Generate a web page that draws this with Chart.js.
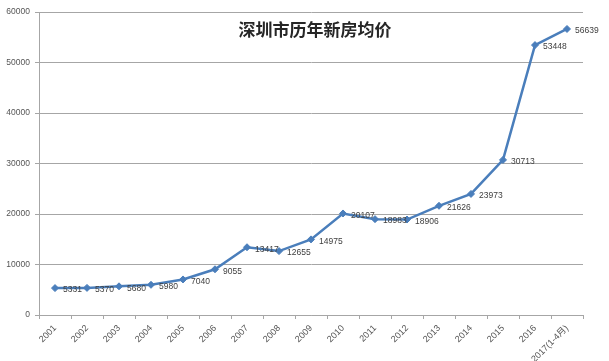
<!DOCTYPE html>
<html><head><meta charset="utf-8">
<script src="https://cdn.jsdelivr.net/npm/chart.js@4/dist/chart.umd.min.js"></script>
<style>html,body{margin:0;padding:0;background:#fff}#wrap{width:609px;height:361px}</style>
</head><body><div id="wrap"><canvas id="c" width="609" height="361"></canvas></div>
<script>
const categories = ['2001','2002','2003','2004','2005','2006','2007','2008','2009','2010','2011','2012','2013','2014','2015','2016','2017(1-4月)'];
const prices = [5331,5370,5680,5980,7040,9055,13417,12655,14975,20107,18983,18906,21626,23973,30713,53448,56639];
const yTicks = [0,10000,20000,30000,40000,50000,60000];
const titleText = '深圳市历年新房均价';

const labelPlugin = {
  id:'labels',
  afterDatasetsDraw(chart){
    const ctx = chart.ctx;
    const meta = chart.getDatasetMeta(0);
    ctx.save();
    ctx.font = '8.5px "Liberation Sans", Arial, sans-serif';
    ctx.fillStyle = '#404040';
    ctx.textAlign = 'left';
    ctx.textBaseline = 'middle';
    meta.data.forEach((pt,i)=>{
      ctx.fillText(String(prices[i]), pt.x + 8, pt.y + 2);
    });
    ctx.font = 'bold 17px "Noto Sans CJK SC", sans-serif';
    ctx.fillStyle = '#262626';
    ctx.textAlign = 'center';
    ctx.fillText(titleText, 315, 30);
    ctx.restore();
  }
};

new Chart(document.getElementById('c'), {
  type:'line',
  data:{labels:categories, datasets:[{
    data:prices,
    borderColor:'#4a7ebb',
    backgroundColor:'#4a7ebb',
    borderWidth:2.5,
    pointStyle:'rectRot',
    pointRadius:3.5,
    pointBorderWidth:1,
    tension:0
  }]},
  options:{
    responsive:false,
    animation:false,
    layout:{padding:{top:12,right:26,left:0,bottom:0}},
    plugins:{legend:{display:false},tooltip:{enabled:false},title:{display:false}},
    scales:{
      x:{
        offset:true,
        grid:{display:true,drawOnChartArea:false,drawTicks:true,tickLength:4,offset:true,color:'#a6a6a6'},
        border:{color:'#a6a6a6'},
        ticks:{maxRotation:45,minRotation:45,autoSkip:false,color:'#555',font:{size:9,family:'"Liberation Sans", "Noto Sans CJK SC", sans-serif'},padding:4},
        afterFit(s){s.height=46;}
      },
      y:{
        min:0,max:60000,
        afterBuildTicks(s){s.ticks = yTicks.map(v=>({value:v}));},
        grid:{color:'#a6a6a6',tickLength:4},
        border:{color:'#a6a6a6'},
        ticks:{color:'#555',font:{size:8.5,family:'"Liberation Sans", sans-serif'},padding:5,callback:(v)=>String(v)},
        afterFit(s){s.width=39;}
      }
    }
  },
  plugins:[labelPlugin]
});
</script></body></html>
